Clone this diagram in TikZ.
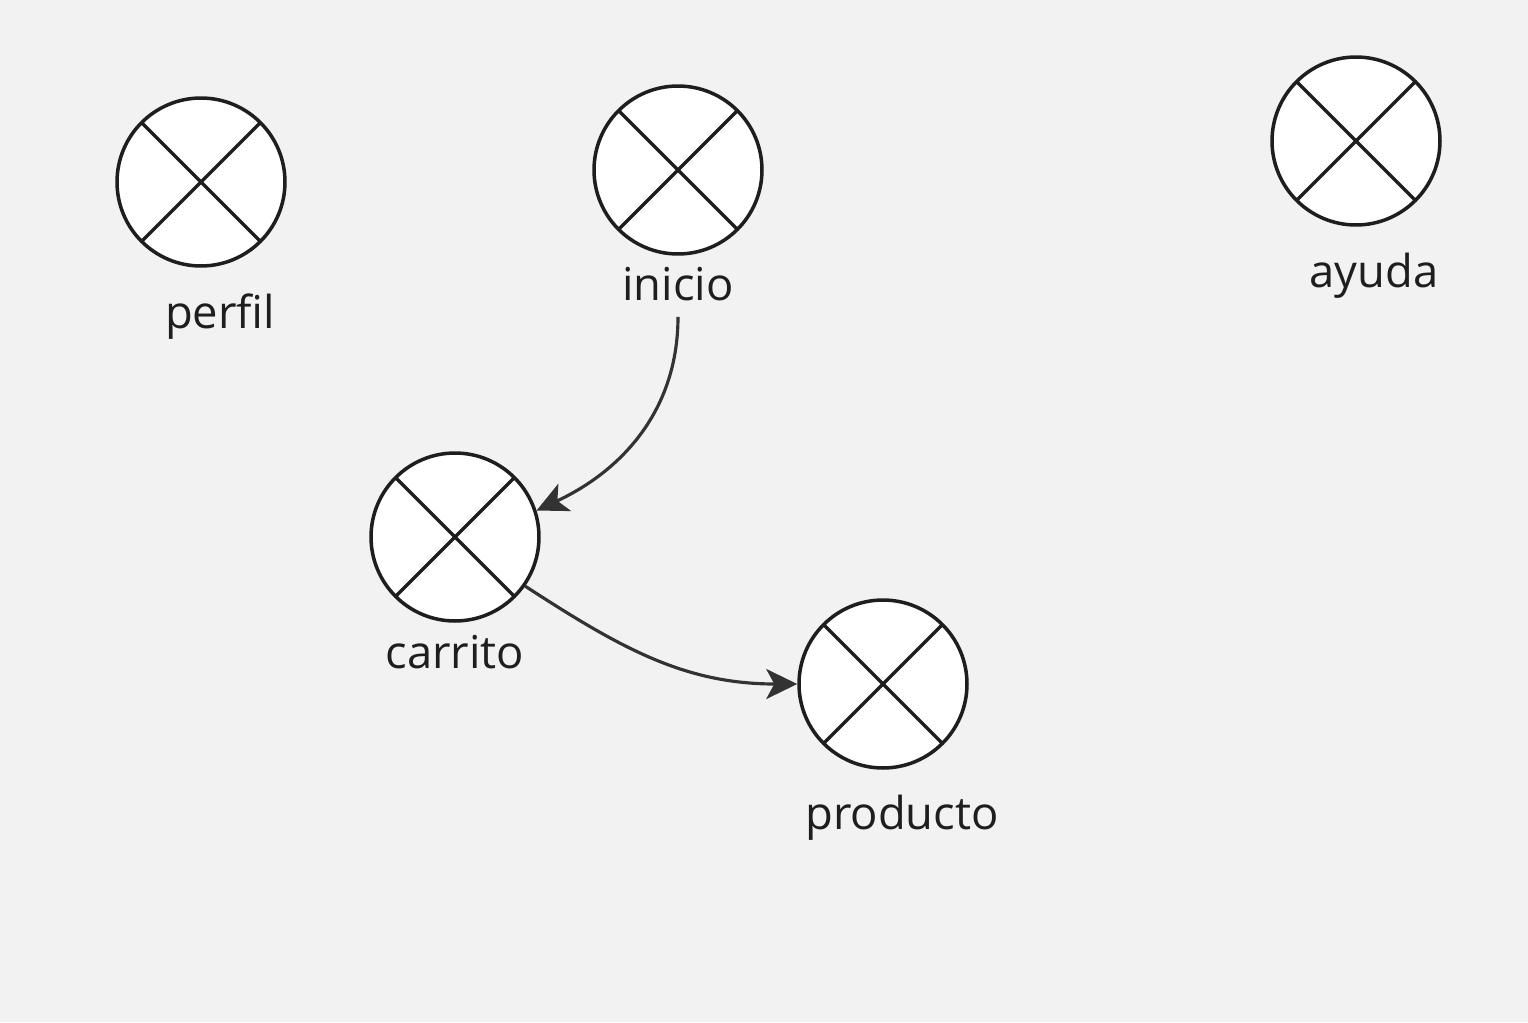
\documentclass[tikz,border=0pt]{standalone}
\usepackage{fontspec}
\setmainfont{Open Sans}
\usetikzlibrary{arrows.meta}

\definecolor{bgcol}{HTML}{F2F2F2}
\definecolor{linecol}{HTML}{1E1E1E}
\definecolor{arrowcol}{HTML}{333333}

\tikzset{
  crossnode/.style={circle, draw=linecol, fill=white, line width=2pt,
    minimum size=3.36cm, inner sep=0pt,
    path picture={\draw[linecol, line width=1.9pt]
      (path picture bounding box.north west) -- (path picture bounding box.south east)
      (path picture bounding box.north east) -- (path picture bounding box.south west);}},
  lbl/.style={anchor=base, inner sep=0.32cm, text=linecol,
    font=\fontsize{25.8}{30}\selectfont},
  flow/.style={draw=arrowcol, line width=1.8pt,
    -{Stealth[length=0.62cm, width=0.6cm, inset=0.16cm]}}
}

\begin{document}
\begin{tikzpicture}[x=0.02cm, y=-0.02cm]
\fill[bgcol] (0,0) rectangle (1528,1022);
\useasboundingbox (0,0) rectangle (1528,1022);

% pantallas
\node[crossnode] (perfil) at (201,182) {};
\node[crossnode] (inicio) at (678,170) {};
\node[crossnode] (ayuda) at (1356,141) {};
\node[crossnode] (carrito) at (455,537) {};
\node[crossnode] (producto) at (883,684) {};

% nombres
\node[lbl] (perfil-lbl) at (220,328) {perfil};
\node[lbl] (inicio-lbl) at (678,300) {inicio};
\node[lbl] (ayuda-lbl) at (1374,287) {ayuda};
\node[lbl] (carrito-lbl) at (455,668) {carrito};
\node[lbl] (producto-lbl) at (902,829) {producto};

% transiciones
\draw[flow] (inicio-lbl.south) to[out=-90, in=25] (carrito.18);
\draw[flow] (carrito.-35) to[out=-33, in=180] (producto.west);
\end{tikzpicture}
\end{document}
